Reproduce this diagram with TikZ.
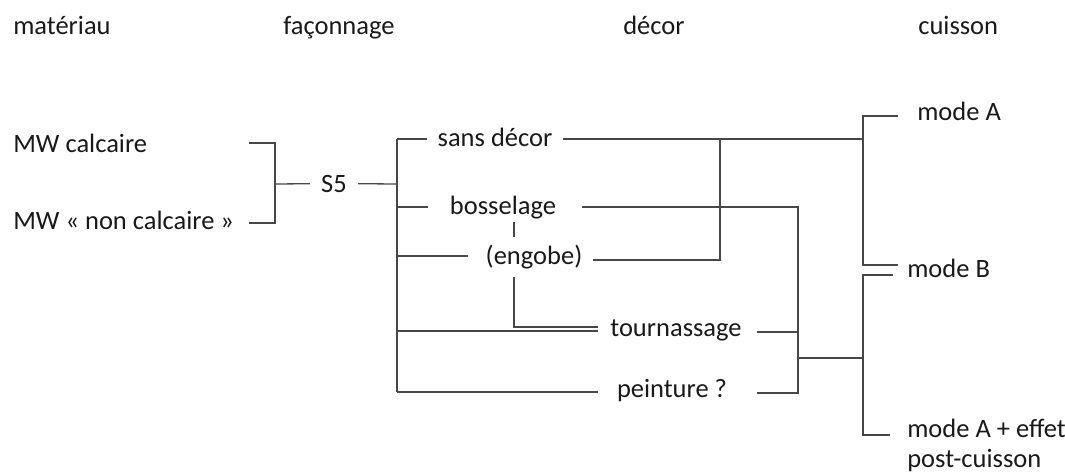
\documentclass[tikz,border=0pt]{standalone}
\usepackage{fontspec}
\setmainfont{Carlito}
\usepackage{tikz}
\usetikzlibrary{positioning}

\begin{document}
\begin{tikzpicture}[x=1pt, y=-1pt, semithick]

\tikzstyle{label}=[
    inner sep=0pt,
    text=black!90,
    font=\fontsize{26.5}{30}\selectfont
]
\tikzstyle{branch}=[
    draw=black!72,
    line width=1.3pt
]

\useasboundingbox (0,0) rectangle (1065,475);

% column headers
\node[label, anchor=base west] (H_0) at (13,34) {matériau};
\node[label, anchor=base west] (H_1) at (283,34) {façonnage};
\node[label, anchor=base west] (H_2) at (623,34) {décor};
\node[label, anchor=base west] (H_3) at (918,34) {cuisson};

% materials and shaping
\node[label, anchor=base west] (M_0) at (13,152) {MW calcaire};
\node[label, anchor=base west] (M_1) at (13,229) {MW « non calcaire »};
\node[label, anchor=base, inner xsep=11pt] (S5) at (334,192) {S5};

% decor
\node[label, anchor=base] (D_0) at (495,146) {sans décor};
\node[label, anchor=base] (D_1) at (503,214) {bosselage};
\node[label, anchor=base] (D_2) at (534,264) {(engobe)};
\node[label, anchor=base] (D_3) at (676,336) {tournassage};
\node[label, anchor=base] (D_4) at (672,397) {peinture ?};

% firing
\node[label, anchor=base west] (C_0) at (917,120) {mode A};
\node[label, anchor=base west] (C_1) at (907,277) {mode B};
\node[label, anchor=base west, align=left] (C_2) at (907,467) {mode A + effet\\post-cuisson};

% junction points
\foreach \n/\x/\y in {
    M_0e/249/143, M_1e/249/223, J_0/275/184, J_1/397/184,
    T_0/397/139, T_1/397/207, T_2/397/256, T_3/397/331, T_4/397/392,
    D_0w/427/139, D_1w/428/207, D_2w/468/256, D_3w/598/331, D_4w/598/392,
    D_0e/563/139, D_1e/582/207, D_2e/593/260, D_3e/757/332, D_4e/757/393,
    E_0/514/222, E_1/514/237, E_2/514/277, E_3/598/327,
    K_0/720/139, K_1/798/358, V_0/863/139,
    C_0w/898/116, C_1w/898/265, C_1v/893/275, C_2w/890/435}
    \coordinate (\n) at (\x,\y);

\draw[branch] (M_0e) -| (J_0) |- (M_1e);
\draw[branch] (J_0) -- (S5);
\draw[branch] (S5) -- (J_1);

\draw[branch] (T_0) -- (T_4);
\draw[branch] (T_0) -- (D_0w);
\draw[branch] (T_1) -- (D_1w);
\draw[branch] (T_2) -- (D_2w);
\draw[branch] (T_3) -- (D_3w);
\draw[branch] (T_4) -- (D_4w);

\draw[branch] (E_0) -- (E_1);
\draw[branch] (E_2) |- (E_3);

\draw[branch] (D_0e) -- (V_0);
\draw[branch] (D_2e) -| (K_0);
\draw[branch] (D_1e) -| (D_4e -| K_1) -- (D_4e);
\draw[branch] (D_3e) -- (D_3e -| K_1);
\draw[branch] (K_1) -- ++(65,0);

\draw[branch] (C_0w) -- ++(-35,0) |- (C_1w);
\draw[branch] (C_1v) -- ++(-30,0) |- (C_2w);

\end{tikzpicture}
\end{document}
